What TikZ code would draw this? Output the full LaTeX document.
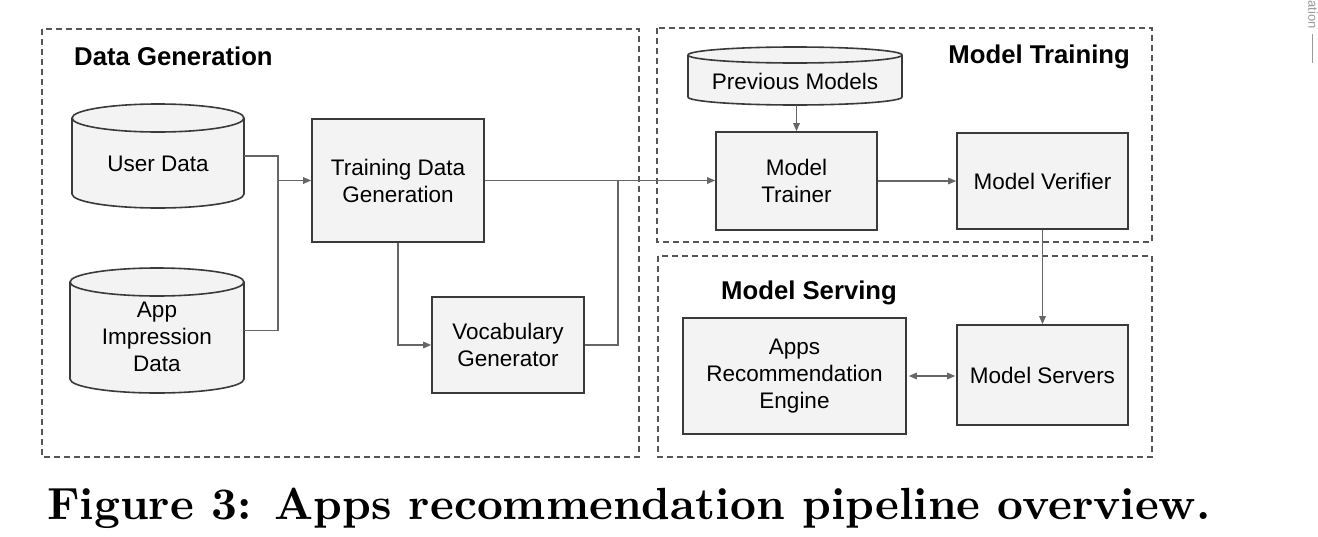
\documentclass[tikz,border=0pt]{standalone}
\usepackage{fontspec}
\newfontfamily\lsans{Liberation Sans}
\usetikzlibrary{arrows.meta}
\definecolor{boxfill}{HTML}{F3F3F3}
\definecolor{boxline}{HTML}{3A3A3A}
\definecolor{connc}{HTML}{666666}
\definecolor{dashc}{HTML}{555555}
\definecolor{stampc}{HTML}{9A9A9A}
\newcommand\boxfont{\lsans\fontsize{22.5}{27}\selectfont}
\newcommand\titlefont{\lsans\bfseries\fontsize{25.7}{30}\selectfont}
\newcommand\cylshape[5]{% x1 x2 ytop ybot ry
  \pgfmathsetmacro\cylxr{(#2-#1)/2}%
  \pgfmathsetmacro\cylxc{(#1+#2)/2}%
  \fill[boxfill] (#1,{-(#3+#5)}) -- (#1,{-(#4-#5)})
     arc[start angle=180,end angle=360,x radius=\cylxr,y radius=#5]
     -- (#2,{-(#3+#5)})
     arc[start angle=0,end angle=180,x radius=\cylxr,y radius=#5] -- cycle;
  \draw[draw=boxline,line width=1.6pt] (#1,{-(#3+#5)}) -- (#1,{-(#4-#5)})
     arc[start angle=180,end angle=360,x radius=\cylxr,y radius=#5]
     -- (#2,{-(#3+#5)});
  \draw[draw=boxline,line width=1.6pt] (\cylxc,{-(#3+#5)}) ellipse[x radius=\cylxr,y radius=#5];
}
\begin{document}
\begin{tikzpicture}[x=1pt,y=1pt,
  procbox/.style={draw=boxline,fill=boxfill,line width=1.6pt,align=center,
    font=\boxfont,inner sep=0pt,text=black},
  cyllabel/.style={align=center,font=\boxfont,inner sep=0pt,text=black},
  cylarea/.style={inner sep=0pt,draw=none},
  conn/.style={draw=connc,line width=1.4pt},
  arr/.style={conn,-{Triangle[length=8pt,width=6.5pt]}},
  darr/.style={conn,{Triangle[length=8pt,width=6.5pt]}-{Triangle[length=8pt,width=6.5pt]}},
  group/.style={draw=dashc,line width=1.2pt,dash pattern=on 6pt off 4pt},
  grouptitle/.style={font=\titlefont,inner sep=0pt,text=black}]
\useasboundingbox (0,0) rectangle (1318,-536);
\fill[white] (0,0) rectangle (1318,-536);

% group frames
\draw[group] (42,-29) rectangle (639,-457);
\draw[group] (657,-28) rectangle (1152,-242);
\draw[group] (658,-256) rectangle (1152,-457);
\node[grouptitle,anchor=base west] (tdatagen) at (74,-65) {Data Generation};
\node[grouptitle,anchor=base east] (ttrain) at (1130,-63) {Model Training};
\node[grouptitle,anchor=base west] (tserve) at (721,-299) {Model Serving};

% cylinders
\cylshape{72}{244}{104}{208}{14}
\node[cylarea,minimum width=172pt,minimum height=104pt] (ud) at (158,-156) {};
\node[cyllabel] (udlabel) at (158,-164) {User Data};

\cylshape{70}{244}{268}{393}{14}
\node[cylarea,minimum width=174pt,minimum height=125pt] (ai) at (157,-330.5) {};
\node[cyllabel] (ailabel) at (157,-337) {App\\Impression\\Data};

\cylshape{688}{902}{47}{105}{8}
\node[cylarea,minimum width=214pt,minimum height=58pt] (pm) at (795,-76) {};
\node[cyllabel] (pmlabel) at (795,-81.5) {Previous Models};

% boxes
\node[procbox,minimum width=172pt,minimum height=123pt] (tdg) at (398,-180.5) {Training Data\\Generation};
\node[procbox,minimum width=152pt,minimum height=96pt] (voc) at (508,-345) {Vocabulary\\Generator};
\node[procbox,minimum width=161pt,minimum height=98pt] (mt) at (796.5,-181) {Model\\Trainer};
\node[procbox,minimum width=171pt,minimum height=96pt] (mv) at (1042.5,-181) {Model Verifier};
\node[procbox,minimum width=171pt,minimum height=100pt] (ms) at (1042.5,-375) {Model Servers};
\node[procbox,minimum width=223pt,minimum height=116pt] (are) at (794.5,-376) {Apps\\Recommendation\\Engine};

% junctions
\coordinate (j1) at (278,-180.5);
\coordinate (j2) at (618,-180.5);

% connectors
\draw[conn] (ud.east) -| (j1) |- (ai.east);
\draw[arr] (j1) -- (tdg.west);
\draw[arr] (tdg.south) |- (voc.west);
\draw[arr] (tdg.east) -- (tdg.east -| mt.west);
\draw[conn] (voc.east) -| (j2);
\draw[arr] (mt.north |- pm.south) -- (mt.north);
\draw[arr] (mt.east) -- (mv.west);
\draw[arr] (mv.south) -- (ms.north);
\draw[darr,shorten <=2pt,shorten >=1pt] (are.east) -- (are.east -| ms.west);

% caption
\node[anchor=base west,inner sep=0pt] (caption) at (47,-519)
  {\resizebox{1163pt}{!}{\bfseries Figure 3: Apps recommendation pipeline overview.}};

% cropped margin stamp
\node[rotate=-90,anchor=east,inner sep=0pt,text=stampc,font=\lsans\fontsize{13}{15}\selectfont] (stamp) at (1313,-29) {ation};
\coordinate (stampa) at (1312,-34);
\coordinate (stampb) at (1312,-63);
\draw[draw=stampc,line width=0.8pt] (stampa) -- (stampb);
\end{tikzpicture}
\end{document}
